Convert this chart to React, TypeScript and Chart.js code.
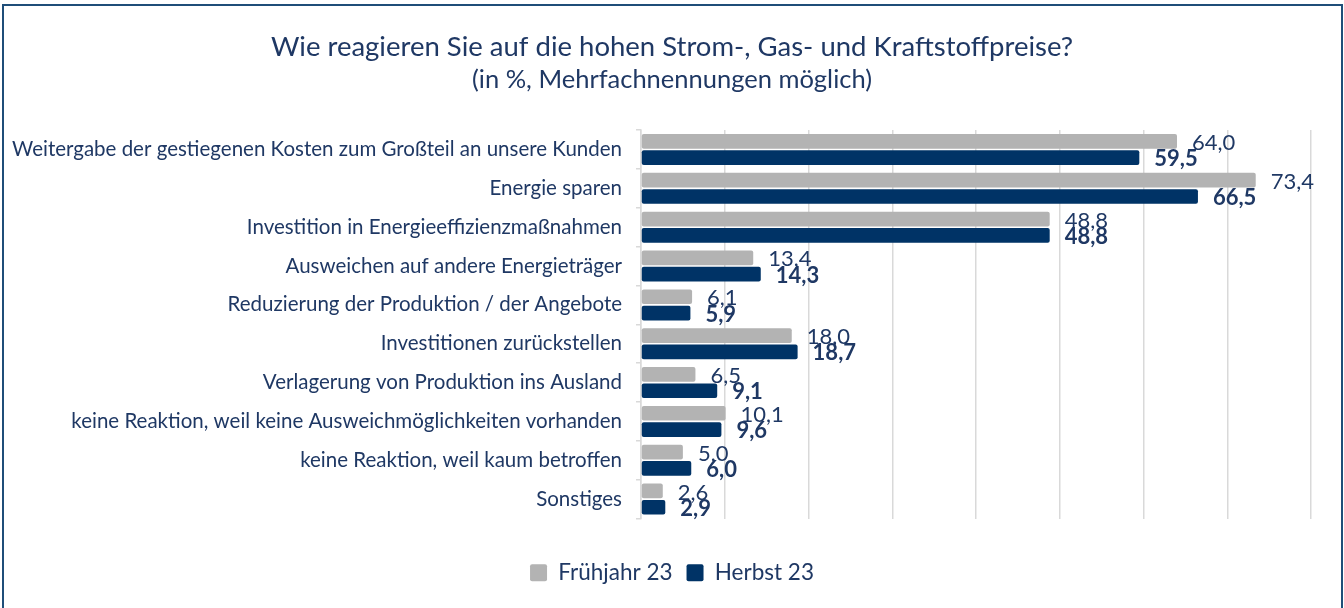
import React, { useEffect, useRef } from "react";
import { Chart, registerables } from "chart.js";

Chart.register(...registerables);

const TITLE = "Wie reagieren Sie auf die hohen Strom-, Gas- und Kraftstoffpreise?";
const SUBTITLE = "(in %, Mehrfachnennungen möglich)";

const categories = [
  "Weitergabe der gestiegenen Kosten zum Großteil an unsere Kunden",
  "Energie sparen",
  "Investition in Energieeffizienzmaßnahmen",
  "Ausweichen auf andere Energieträger",
  "Reduzierung der Produktion / der Angebote",
  "Investitionen zurückstellen",
  "Verlagerung von Produktion ins Ausland",
  "keine Reaktion, weil keine Ausweichmöglichkeiten vorhanden",
  "keine Reaktion, weil kaum betroffen",
  "Sonstiges",
];

const seriesNames = ["Frühjahr 23", "Herbst 23"];
const fruehjahr23 = [64.0, 73.4, 48.8, 13.4, 6.1, 18.0, 6.5, 10.1, 5.0, 2.6];
const herbst23 = [59.5, 66.5, 48.8, 14.3, 5.9, 18.7, 9.1, 9.6, 6.0, 2.9];

const xMin = 0;
const xMax = 80;
const xStep = 10;

const FONT = "Lato";
const TEXT = "#1f3864";
const GRAY = "#b3b3b3";
const NAVY = "#003366";
const GRID = "#d9d9d9";

const fmt = (v: number) => v.toFixed(1).replace(".", ",");

const dataLabelPlugin = {
  id: "dataLabels",
  afterDatasetsDraw(chart: any) {
    const ctx = chart.ctx;
    chart.data.datasets.forEach((ds: any, di: number) => {
      const meta = chart.getDatasetMeta(di);
      meta.data.forEach((bar: any, i: number) => {
        const v = ds.data[i];
        ctx.save();
        ctx.font = `${di === 1 ? "bold " : ""}22px ${FONT}`;
        ctx.fillStyle = TEXT;
        ctx.textBaseline = "middle";
        ctx.textAlign = "left";
        ctx.fillText(fmt(v), bar.x + 15, bar.y + 1.5);
        ctx.restore();
      });
    });
  },
};

export default function App() {
  const canvasRef = useRef<HTMLCanvasElement | null>(null);

  useEffect(() => {
    if (!canvasRef.current) return;
    const chart = new Chart(canvasRef.current, {
      type: "bar",
      data: {
        labels: categories,
        datasets: [
          {
            label: seriesNames[0],
            data: fruehjahr23,
            backgroundColor: GRAY,
            borderRadius: 2,
            borderSkipped: false,
            categoryPercentage: 0.84,
            barPercentage: 0.9,
          },
          {
            label: seriesNames[1],
            data: herbst23,
            backgroundColor: NAVY,
            borderRadius: 2,
            borderSkipped: false,
            categoryPercentage: 0.84,
            barPercentage: 0.9,
          },
        ],
      },
      options: {
        indexAxis: "y",
        responsive: true,
        maintainAspectRatio: false,
        animation: false,
        layout: { padding: { left: 0, right: 0, top: 0, bottom: 14 } },
        plugins: {
          title: {
            display: true,
            text: TITLE,
            color: TEXT,
            font: { family: FONT, size: 27.5, weight: "normal" },
            padding: { top: 30.5, bottom: 1 },
          },
          subtitle: {
            display: true,
            text: SUBTITLE,
            color: TEXT,
            font: { family: FONT, size: 25.5, weight: "normal" },
            padding: { top: 0, bottom: 35 },
          },
          legend: {
            position: "bottom",
            labels: {
              boxWidth: 17,
              boxHeight: 17,
              useBorderRadius: true,
              borderRadius: 2,
              color: TEXT,
              font: { family: FONT, size: 22.5 },
              padding: 14,
            },
          },
          tooltip: { enabled: false },
        },
        scales: {
          x: {
            min: xMin,
            max: xMax,
            ticks: { display: false, stepSize: xStep },
            grid: { color: GRID, drawTicks: false, lineWidth: 1.5 },
            border: { display: false },
            afterFit: (s: any) => {
              s.height = 29;
            },
          },
          y: {
            grid: {
              drawOnChartArea: false,
              drawTicks: true,
              tickLength: 5,
              tickColor: GRID,
              offset: true,
              lineWidth: 1.5,
            },
            border: { color: GRID, width: 1.5 },
            ticks: {
              color: TEXT,
              font: { family: FONT, size: 20.5 },
              padding: 14,
              autoSkip: false,
            },
            afterFit: (s: any) => {
              s.width = 641;
            },
          },
          yR: {
            type: "linear",
            position: "right",
            display: true,
            grid: { display: false },
            border: { display: false },
            ticks: { display: false },
            afterFit: (s: any) => {
              s.width = 33;
            },
          },
        },
      } as any,
      plugins: [dataLabelPlugin],
    });
    return () => chart.destroy();
  }, []);

  return (
    <div
      style={{
        position: "fixed",
        left: 0,
        top: 0,
        width: 1344,
        height: 608,
        overflow: "hidden",
        background: "#ffffff",
      }}
    >
      <div
        style={{
          position: "absolute",
          left: 2,
          top: 4,
          width: 1341,
          height: 700,
          border: "2px solid #1f4e79",
          boxSizing: "border-box",
        }}
      />
      <div style={{ position: "absolute", left: 0, top: 0, width: 1344, height: 608 }}>
        <canvas ref={canvasRef} />
      </div>
    </div>
  );
}
